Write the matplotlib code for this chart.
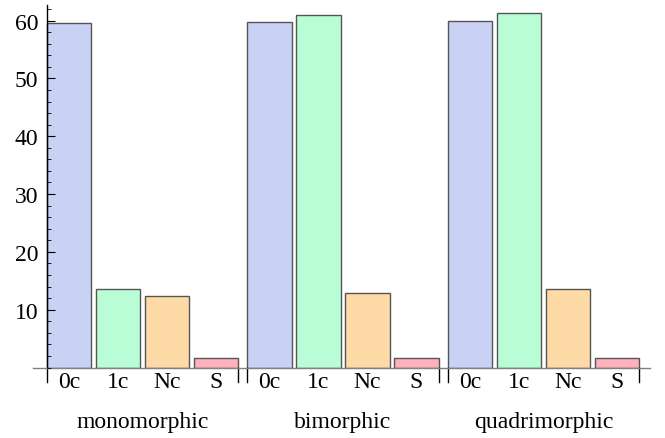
import matplotlib
matplotlib.use("Agg")
import matplotlib.pyplot as plt
import matplotlib.transforms as mtransforms
from matplotlib.ticker import MultipleLocator, FixedLocator

groups = ["monomorphic", "bimorphic", "quadrimorphic"]
categories = ["0c", "1c", "Nc", "S"]
values = {
    "monomorphic": [59.6, 13.5, 12.4, 1.6],
    "bimorphic": [59.8, 61.0, 12.8, 1.6],
    "quadrimorphic": [59.9, 61.4, 13.6, 1.6],
}
colors = ["#c9d1f5", "#b9fdd6", "#fedaa6", "#ffb2bb"]

plt.rcParams["font.family"] = ["Liberation Serif", "DejaVu Serif"]

W, H, DPI = 665, 439, 100
fig = plt.figure(figsize=(W / DPI, H / DPI), dpi=DPI)

# pixel layout of the plotting region
px_left, px_right = 33, 650
px_zero_y, px_top_y = 368.5, 6
ax = fig.add_axes([px_left / W, (H - px_zero_y) / H,
                   (px_right - px_left) / W, (px_zero_y - px_top_y) / H])

unit = 49.0          # pixels per bar slot
bar_w = 0.91
group_step = 4.09
y0_px = 46.7         # pixel x of the first bar's left edge
ax.set_xlim((px_left - y0_px) / unit, (px_right - y0_px) / unit)
ax.set_ylim(0, 62.7)

for g, name in enumerate(groups):
    start = g * group_step
    for i, (cat, v) in enumerate(zip(categories, values[name])):
        ax.bar(start + i + bar_w / 2, v, width=bar_w, color=colors[i],
               edgecolor="#555555", linewidth=1.0, zorder=1)

# axes styling
ax.set_axisbelow(False)
for s in ["top", "right"]:
    ax.spines[s].set_visible(False)
ax.spines["left"].set_position(("data", 0))
ax.spines["left"].set_color("black")
ax.spines["left"].set_linewidth(1.0)
ax.spines["bottom"].set_color("#808080")
ax.spines["bottom"].set_linewidth(1.0)

ax.yaxis.set_major_locator(FixedLocator([10, 20, 30, 40, 50, 60]))
ax.yaxis.set_minor_locator(MultipleLocator(2))
ax.tick_params(axis="y", which="major", direction="in", length=5.5, width=0.8,
               labelsize=17, pad=6, color="black")
ax.tick_params(axis="y", which="minor", direction="in", length=3, width=0.6,
               color="black")
ax.set_xticks([])

# group separator ticks and labels below the axis
trans = mtransforms.blended_transform_factory(ax.transData, fig.transFigure)
tick_bottom = (H - 383) / H
axis_y = (H - px_zero_y) / H
for g, name in enumerate(groups):
    start = g * group_step
    end = start + 3 + bar_w
    for xe in (start, end):
        ax.plot([xe, xe], [axis_y, tick_bottom], color="black", lw=1.0,
                transform=trans, clip_on=False)
    for i, cat in enumerate(categories):
        ax.text(start + i + bar_w / 2, (H - 388) / H, cat, transform=trans,
                ha="center", va="baseline", fontsize=17)
    ax.text((start + end) / 2, (H - 428) / H, name, transform=trans,
            ha="center", va="baseline", fontsize=17)

fig.savefig("out.png", dpi=DPI)
